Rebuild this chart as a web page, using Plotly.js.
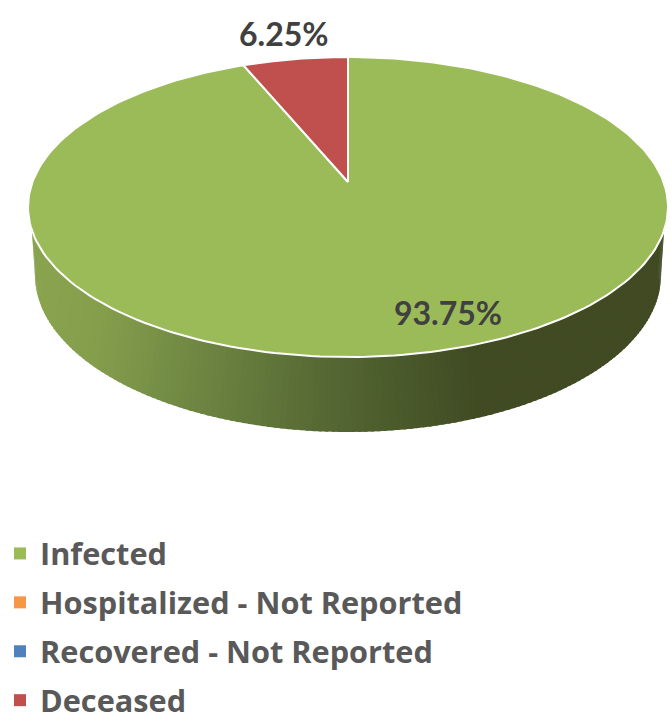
<!DOCTYPE html>
<html><head><meta charset="utf-8">
<script src="https://cdn.plot.ly/plotly-3.0.1.min.js"></script>
<style>html,body{margin:0;padding:0;background:#fff}</style></head>
<body><div id="chart" style="width:672px;height:721px"></div>
<script>
const categories = ["Infected", "Hospitalized - Not Reported", "Recovered - Not Reported", "Deceased"];
const shares = [93.75, 0, 0, 6.25];
const sliceColors = ["#9BBB59", "#F79646", "#4F81BD", "#C0504D"];
const wallStops = [[28,"#8AA44F"],[100,"#849E4C"],[190,"#708843"],[300,"#5A6E36"],[400,"#4A5A2B"],[480,"#404A23"],[668,"#404A23"]];

// Projection of the tilted disc
const cx = 348, cy = 207, rx = 320, ry = 150, k = 25/150;
const botY = 275, botRx = 313, botRy = 157, wallStart = 98.8;
const hex = c => [1,3,5].map(i => parseInt(c.substr(i,2),16));
function wallColor(x){
  for (let i=1;i<wallStops.length;i++){
    if (x<=wallStops[i][0]){
      const a=wallStops[i-1],b=wallStops[i],t=(x-a[0])/(b[0]-a[0]);
      const ca=hex(a[1]),cb=hex(b[1]);
      return "rgb("+ca.map((v,j)=>Math.round(v+(cb[j]-v)*t)).join(",")+")";
    }
  }
  return wallStops[wallStops.length-1][1];
}
const R = Math.PI/180;
// clockwise angle on the disc -> perspective rim point
const rim = deg => { const s=Math.sin(deg*R), c=Math.cos(deg*R), d=1+k*c;
  return [cx+rx*s*Math.sqrt(1-k*k)/d, cy-ry*(c+k)/d]; };
const ellTop = deg => [cx+rx*Math.sin(deg*R), cy-ry*Math.cos(deg*R)];
const ellBot = deg => [cx+botRx*Math.sin(deg*R), botY-botRy*Math.cos(deg*R)];
function sector(from,to){
  const xs=[cx], ys=[cy-ry*k];
  for(let j=0;j<=240;j++){ const p=rim(from+(to-from)*j/240); xs.push(p[0]); ys.push(p[1]); }
  xs.push(cx); ys.push(cy-ry*k);
  return {x:xs,y:ys};
}
const traces = [];
const strips = 150;
for(let s=strips-1;s>=0;s--){
  const t0=s/strips, t1=Math.min(1,(s+1.5)/strips);
  const xs=[],ys=[];
  for(let j=0;j<=3;j++){ const t=t0+(t1-t0)*j/3; const p=ellTop(wallStart+(360-2*wallStart)*t); xs.push(p[0]); ys.push(p[1]); }
  for(let j=3;j>=0;j--){ const t=t0+(t1-t0)*j/3; const p=ellBot(90+180*t); xs.push(p[0]); ys.push(p[1]); }
  traces.push({type:"scatter",mode:"lines",x:xs,y:ys,fill:"toself",fillcolor:wallColor((xs[0]+xs[3]+xs[4]+xs[7])/4),
    line:{width:0},hoverinfo:"skip",showlegend:false});
}
let acc=0;
shares.forEach((v,i)=>{
  const from=acc*3.6, to=(acc+v)*3.6; acc+=v;
  if(v<=0) return;
  const s=sector(from,to);
  traces.push({type:"scatter",mode:"lines",x:s.x,y:s.y,fill:"toself",fillcolor:sliceColors[i],
    line:{color:"#FFFFFF",width:2},name:categories[i],hoverinfo:"name",showlegend:false});
});
categories.forEach((c,i)=>traces.push({type:"scatter",mode:"markers",x:[null],y:[null],name:c,
  legendgroup:"g"+i,marker:{symbol:"square",size:12,color:sliceColors[i]}}));

const labelFont={family:"Lato, sans-serif",size:32,color:"#404040",weight:700};
const layout={
  width:672,height:721,margin:{l:0,r:0,t:0,b:0,autoexpand:false},paper_bgcolor:"#fff",plot_bgcolor:"#fff",
  xaxis:{range:[0,672],visible:false,fixedrange:true},
  yaxis:{range:[721,0],visible:false,fixedrange:true},
  showlegend:true,
  legend:{x:0,y:-0.0083,xanchor:"left",yanchor:"bottom",traceorder:"grouped",tracegroupgap:6,itemsizing:"constant",
    font:{family:"Open Sans, sans-serif",size:30.7,color:"#595959",weight:700},bgcolor:"rgba(0,0,0,0)"},
  annotations:[
    {x:284,y:33,text:shares[3].toFixed(2)+"%",showarrow:false,font:labelFont},
    {x:448,y:312,text:shares[0].toFixed(2)+"%",showarrow:false,font:labelFont}
  ]
};
Plotly.newPlot("chart",traces,layout,{displayModeBar:false,responsive:false});
</script></body></html>
